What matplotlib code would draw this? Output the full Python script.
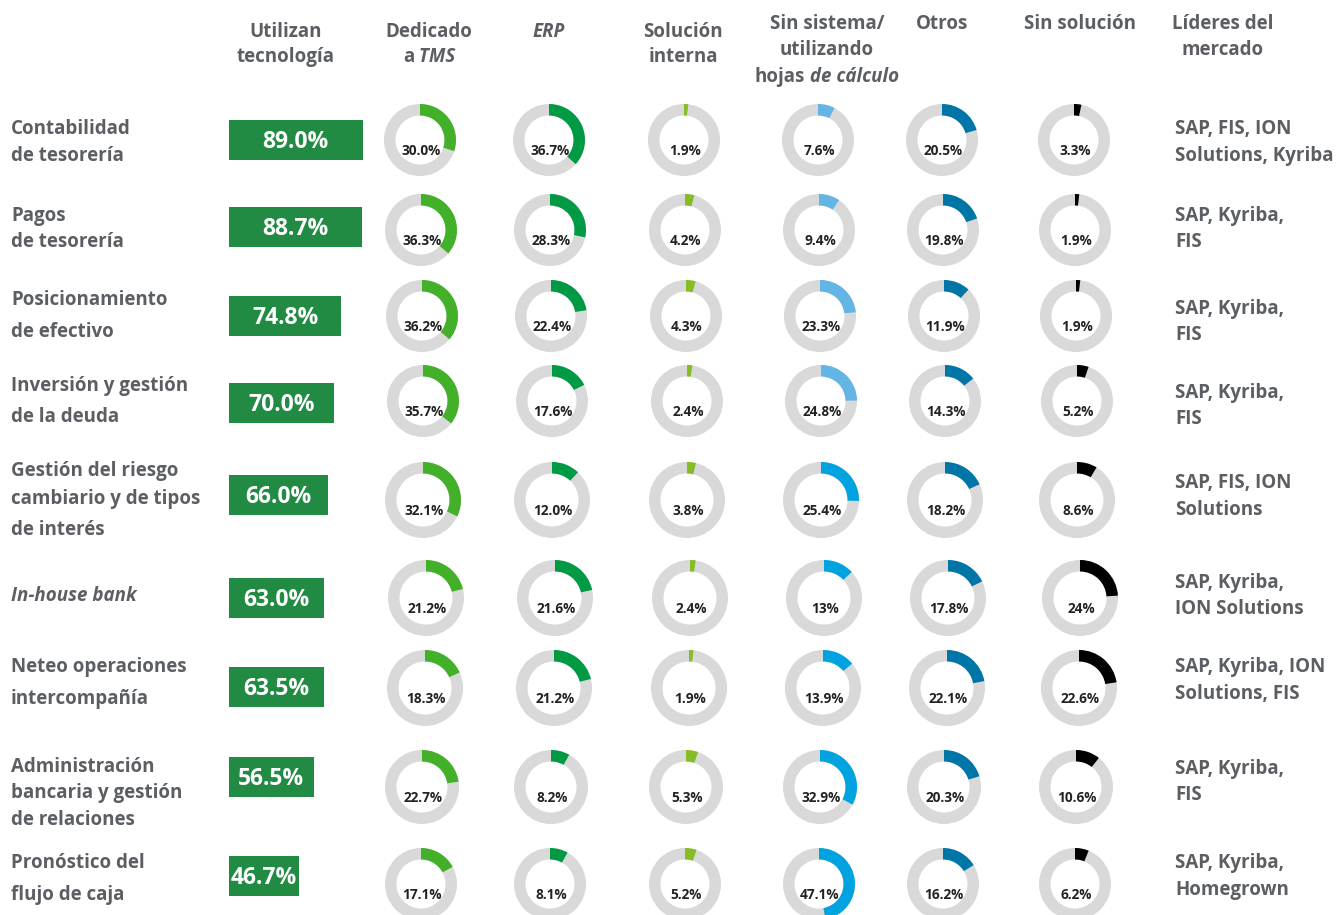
import matplotlib.pyplot as plt
from matplotlib.patches import Wedge, Rectangle

# ------------------------------------------------------------------
# Data
# ------------------------------------------------------------------
row_labels = [
    ["Contabilidad", "de tesorería"],
    ["Pagos", "de tesorería"],
    ["Posicionamiento", "de efectivo"],
    ["Inversión y gestión", "de la deuda"],
    ["Gestión del riesgo", "cambiario y de tipos", "de interés"],
    ["In-house bank"],
    ["Neteo operaciones", "intercompañía"],
    ["Administración", "bancaria y gestión", "de relaciones"],
    ["Pronóstico del", "flujo de caja"],
]

use_tech = [89.0, 88.7, 74.8, 70.0, 66.0, 63.0, 63.5, 56.5, 46.7]

tms = [30.0, 36.3, 36.2, 35.7, 32.1, 21.2, 18.3, 22.7, 17.1]
erp = [36.7, 28.3, 22.4, 17.6, 12.0, 21.6, 21.2, 8.2, 8.1]
internal = [1.9, 4.2, 4.3, 2.4, 3.8, 2.4, 1.9, 5.3, 5.2]
spreadsheet = [7.6, 9.4, 23.3, 24.8, 25.4, 13.0, 13.9, 32.9, 47.1]
others = [20.5, 19.8, 11.9, 14.3, 18.2, 17.8, 22.1, 20.3, 16.2]
no_solution = [3.3, 1.9, 1.9, 5.2, 8.6, 24.0, 22.6, 10.6, 6.2]

donut_labels = {
    "spreadsheet": ["7.6%", "9.4%", "23.3%", "24.8%", "25.4%", "13%", "13.9%", "32.9%", "47.1%"],
    "no_solution": ["3.3%", "1.9%", "1.9%", "5.2%", "8.6%", "24%", "22.6%", "10.6%", "6.2%"],
}

leaders = [
    ["SAP, FIS, ION", "Solutions, Kyriba"],
    ["SAP, Kyriba,", "FIS"],
    ["SAP, Kyriba,", "FIS"],
    ["SAP, Kyriba,", "FIS"],
    ["SAP, FIS, ION", "Solutions"],
    ["SAP, Kyriba,", "ION Solutions"],
    ["SAP, Kyriba, ION", "Solutions, FIS"],
    ["SAP, Kyriba,", "FIS"],
    ["SAP, Kyriba,", "Homegrown"],
]

# ------------------------------------------------------------------
# Layout / style (pixel coordinates)
# ------------------------------------------------------------------
GRAY_TXT = "#5b5e63"
DARK_TXT = "#222222"
RING = "#d9d9d9"
BOX = "#218a43"
FONT = "Open Sans"
DY = 2  # text baseline nudge

row_y = [140, 230, 316, 401, 500, 598, 688, 787, 884]
row_dx = [0, 1, 2, 3, 3, 6, 5, 2, 1]
col_x = [420, 549, 684, 818, 942, 1074]
row_r = [36, 36, 36, 36, 38, 38, 38, 37, 36]

label_lines_y = [
    [127, 154], [214, 240], [298, 330], [384, 415], [469, 497, 528],
    [594], [665, 697], [765, 791, 818], [861, 893],
]
leader_lines_y = [
    [127, 154], [214, 240], [307, 333], [391, 417], [481, 508],
    [581, 607], [665, 692], [767, 793], [861, 888],
]
box_y = [140, 227, 316, 403, 495, 598, 687, 777, 876]

fig = plt.figure(figsize=(13.37, 9.15), dpi=100)
ax = fig.add_axes([0, 0, 1, 1])
ax.set_xlim(0, 1337)
ax.set_ylim(915, 0)
ax.axis("off")
renderer = fig.canvas.get_renderer()


def mixed_line(x, y, parts, **kw):
    texts = [ax.text(0, y + DY, s, style=st, ha="left", va="center", **kw) for s, st in parts]
    widths = [t.get_window_extent(renderer).width for t in texts]
    cur = x - sum(widths) / 2
    for t, w in zip(texts, widths):
        t.set_x(cur)
        cur += w


# Headers
hdr = dict(fontsize=13.5, fontweight="bold", color=GRAY_TXT, family=FONT)
headers = [
    (286, [30, 55], [[("Utilizan", "normal")], [("tecnología", "normal")]]),
    (429, [30, 55], [[("Dedicado", "normal")], [("a", "normal"), (" TMS", "italic")]]),
    (549, [30], [[("ERP", "italic")]]),
    (683, [30, 55], [[("Solución", "normal")], [("interna", "normal")]]),
    (827, [22, 48, 75], [[("Sin sistema/", "normal")], [("utilizando", "normal")],
                          [("hojas", "normal"), (" de cálculo", "italic")]]),
    (942, [22], [[("Otros", "normal")]]),
    (1080, [22], [[("Sin solución", "normal")]]),
    (1223, [22, 48], [[("Líderes del", "normal")], [("mercado", "normal")]]),
]
for x, ys, lines in headers:
    for y, parts in zip(ys, lines):
        mixed_line(x, y, parts, **hdr)

# Row labels
for i, lines in enumerate(row_labels):
    for line, y in zip(lines, label_lines_y[i]):
        ax.text(11, y + DY, line, fontsize=13.5, fontweight="bold", color=GRAY_TXT,
                family=FONT, va="center", ha="left",
                style="italic" if line == "In-house bank" else "normal")

# Green boxes, width proportional to value
scale = 1.5
for i, v in enumerate(use_tech):
    w = v * scale
    ax.add_patch(Rectangle((229, box_y[i] - 20), w, 40, color=BOX, lw=0))
    ax.text(229 + w / 2, box_y[i] + DY, f"{v:.1f}%", fontsize=16.5, fontweight="bold",
            color="white", family=FONT, ha="center", va="center")

# Donuts
series = [
    (tms, ["#43b02a"] * 9, None),
    (erp, ["#009a44"] * 9, None),
    (internal, ["#86bc25"] * 9, None),
    (spreadsheet, ["#62b5e5"] * 4 + ["#00a3e0"] * 5, donut_labels["spreadsheet"]),
    (others, ["#0076a8"] * 9, None),
    (no_solution, ["#000000"] * 9, donut_labels["no_solution"]),
]
for c, (vals, colors, labels) in enumerate(series):
    for i, v in enumerate(vals):
        cx = col_x[c] + row_dx[i]
        cy = row_y[i]
        r = row_r[i]
        ax.add_patch(Wedge((cx, cy), r, 0, 360, width=11.5, color=RING, lw=0))
        # clockwise from 12 o'clock (y axis is inverted)
        ax.add_patch(Wedge((cx, cy), r, -90, -90 + 360 * v / 100, width=11.5,
                           color=colors[i], lw=0))
        txt = labels[i] if labels else f"{v:.1f}%"
        ax.text(cx + 1, cy + 9 + DY, txt, fontsize=9.8, fontweight="bold", color=DARK_TXT,
                family=FONT, ha="center", va="center")

# Market leaders
for i, lines in enumerate(leaders):
    for line, y in zip(lines, leader_lines_y[i]):
        ax.text(1175, y + DY, line, fontsize=13.5, fontweight="bold", color=GRAY_TXT,
                family=FONT, va="center", ha="left")

fig.savefig("out.png", dpi=100, facecolor="white")
